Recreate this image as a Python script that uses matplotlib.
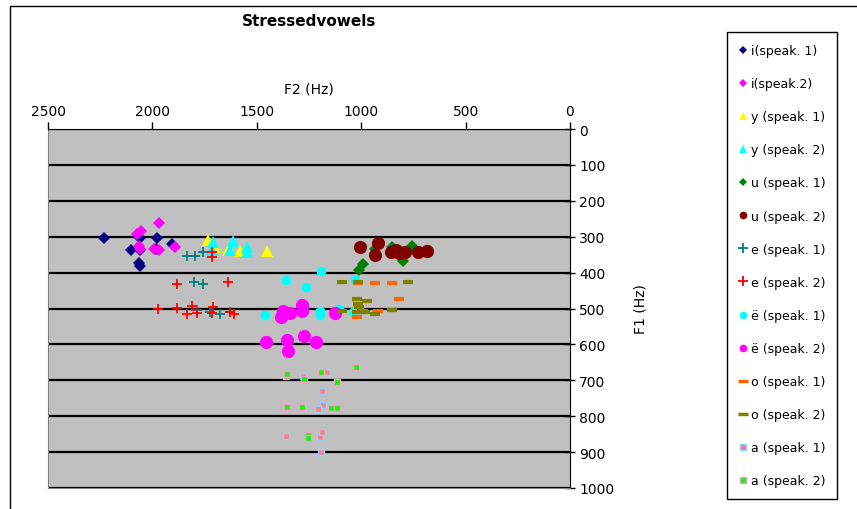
import matplotlib
matplotlib.use("Agg")
import matplotlib.pyplot as plt
from matplotlib.lines import Line2D
from matplotlib.patches import Rectangle

plt.rcParams['font.family'] = ['DejaVu Sans']

# ---- data (F2, F1) in Hz ----
i1_f2 = [2232, 2059, 1980, 2104, 2059, 1983, 1908, 2065, 2059]
i1_f1 = [305, 305, 305, 336, 338, 333, 320, 372, 381]
i2_f2 = [1970, 2056, 2075, 2064, 2060, 1990, 1970, 1892]
i2_f1 = [263, 285, 292, 325, 335, 333, 337, 329]
y1_f2 = [1732, 1700, 1636, 1580, 1453]
y1_f1 = [310, 330, 338, 340, 340]
y2_f2 = [1708, 1716, 1616, 1628, 1548, 1548]
y2_f1 = [316, 338, 311, 338, 330, 343]
u1_f2 = [934, 934, 993, 1009, 854, 758, 750, 798, 806]
u1_f1 = [334, 348, 376, 393, 330, 325, 334, 367, 342]
u2_f2 = [1006, 918, 934, 855, 835, 790, 727, 686, 820]
u2_f1 = [330, 318, 351, 342, 338, 344, 344, 339, 345]
e1_f2 = [1836, 1798, 1759, 1800, 1759, 1787, 1724, 1676, 1628]
e1_f1 = [355, 353, 344, 427, 432, 505, 510, 516, 510]
e2_f2 = [1716, 1716, 1884, 1636, 1972, 1884, 1812, 1836, 1788, 1712, 1716, 1628, 1609]
e2_f1 = [342, 357, 432, 427, 501, 499, 494, 515, 512, 497, 512, 510, 515]
oe1_f2 = [1194, 1360, 1266, 1461, 1197, 1197, 1105, 1030, 1038]
oe1_f1 = [395, 420, 441, 517, 506, 518, 501, 420, 510]
oe2_f2 = [1373, 1386, 1341, 1282, 1282, 1125, 1456, 1357, 1352, 1274, 1216]
oe2_f1 = [506, 524, 512, 490, 506, 512, 592, 587, 617, 576, 592]
o1_f2 = [1014, 934, 854, 817, 990, 918, 1022]
o1_f1 = [428, 428, 430, 474, 508, 508, 525]
o2_f2 = [1094, 1014, 774, 1022, 971, 1014, 1010, 1094, 1022, 982, 934, 854]
o2_f1 = [427, 427, 427, 474, 478, 487, 497, 506, 509, 510, 515, 504]
a1_f2 = [1360, 1277, 1165, 1189, 1181, 1205, 1360, 1197, 1189, 1194]
a1_f1 = [687, 687, 678, 731, 769, 780, 854, 859, 845, 899]
a2_f2 = [1354, 1274, 1194, 1114, 1026, 1354, 1282, 1146, 1114, 1253, 1253]
a2_f1 = [682, 696, 676, 706, 664, 773, 773, 777, 777, 852, 862]

labels = ["i(speak. 1)", "i(speak.2)", "y (speak. 1)", "y (speak. 2)",
          "u (speak. 1)", "u (speak. 2)", "e (speak. 1)", "e (speak. 2)",
          "ë (speak. 1)", "ë (speak. 2)", "o (speak. 1)", "o (speak. 2)",
          "a (speak. 1)", "a (speak. 2)"]

x_ticks = [2500, 2000, 1500, 1000, 500, 0]
y_ticks = [0, 100, 200, 300, 400, 500, 600, 700, 800, 900, 1000]

series = [
    (i1_f2, i1_f1, dict(marker='D', color='#000080', ms=6.5, mec='#000080', mew=0)),
    (i2_f2, i2_f1, dict(marker='D', color='#FF00FF', ms=6.5, mec='#FF00FF', mew=0)),
    (y1_f2, y1_f1, dict(marker='^', color='#FFFF00', ms=8, mec='#FFFF00', mew=0)),
    (y2_f2, y2_f1, dict(marker='^', color='#00FFFF', ms=8, mec='#00FFFF', mew=0)),
    (u1_f2, u1_f1, dict(marker='D', color='#008000', ms=6.5, mec='#008000', mew=0)),
    (u2_f2, u2_f1, dict(marker='o', color='#800000', ms=9.5, mec='#800000', mew=0)),
    (e1_f2, e1_f1, dict(marker='+', color='#008080', ms=7, mew=1.3)),
    (e2_f2, e2_f1, dict(marker='+', color='#FF0000', ms=7, mew=1.3)),
    (oe1_f2, oe1_f1, dict(marker='o', color='#00FFFF', ms=7, mec='#00FFFF', mew=0)),
    (oe2_f2, oe2_f1, dict(marker='o', color='#FF00FF', ms=9.5, mec='#FF00FF', mew=0)),
    (o1_f2, o1_f1, dict(marker='_', color='#FF6600', ms=6.5, mew=3)),
    (o2_f2, o2_f1, dict(marker='_', color='#808000', ms=6.5, mew=3)),
    (a1_f2, a1_f1, dict(marker='s', color='#FF8080', ms=5, mec='#99CCFF', mew=1)),
    (a2_f2, a2_f1, dict(marker='s', color='#00FF00', ms=5, mec='#FF99CC', mew=1)),
]

W, H = 857, 510
fig = plt.figure(figsize=(W / 100, H / 100), dpi=100)

# outer chart border
fig.patches.append(Rectangle((10 / W, -0.05), 1.2, 1 - 7 / H + 0.05,
                             transform=fig.transFigure, fill=False,
                             edgecolor='#000000', linewidth=1.0))

ax = fig.add_axes([48 / W, 1 - 489 / H, (570 - 48) / W, (489 - 130) / H])
ax.set_facecolor('#C0C0C0')

for f2, f1, st in series:
    ax.plot(f2, f1, linestyle='none', zorder=3, **st)

ax.set_xlim(2500, 0)
ax.set_ylim(1000, 0)
ax.set_xticks(x_ticks)
ax.set_yticks(y_ticks)
ax.xaxis.tick_top()
ax.yaxis.tick_right()
ax.tick_params(axis='x', direction='out', length=5, width=1, labelsize=10, pad=3)
ax.tick_params(axis='y', direction='inout', length=7, width=1, labelsize=10, pad=3)
ax.grid(axis='y', color='#000000', linewidth=1.6, zorder=1)
ax.set_axisbelow(True)
for s in ['left', 'bottom']:
    ax.spines[s].set_color('#808080')
ax.spines['top'].set_color('#000000')
ax.spines['right'].set_color('#000000')

ax.xaxis.set_label_position('top')
ax.set_xlabel('F2 (Hz)', fontsize=10, labelpad=8)
ax.yaxis.set_label_position('right')
ax.set_ylabel('F1 (Hz)', fontsize=10, labelpad=14, rotation=90)

fig.text(309 / W, 1 - 22 / H, 'Stressedvowels', ha='center', va='center',
         fontsize=11, fontweight='bold')

# legend
handles = []
for f2, f1, st in series:
    st2 = dict(st)
    m = st['marker']
    if m == 'D':
        st2['ms'] = 4.5
    elif m == '^':
        st2['ms'] = 6
    elif m == 'o':
        st2['ms'] = 5.5
    elif m == '+':
        st2['ms'] = 7
    elif m == '_':
        st2['ms'] = 7
        st2['mew'] = 2.5
    elif m == 's':
        st2['ms'] = 5
    handles.append(Line2D([], [], linestyle='none', **st2))
leg = fig.legend(handles, labels, loc='upper left',
                 bbox_to_anchor=(727 / W, 1 - 33 / H), borderaxespad=0,
                 fontsize=9, labelspacing=1.61, handlelength=0.7,
                 handletextpad=0.25, borderpad=0.95, frameon=True,
                 fancybox=False, edgecolor='#000000', framealpha=1)
leg.get_frame().set_linewidth(1.0)

fig.savefig('out.png', dpi=100)
